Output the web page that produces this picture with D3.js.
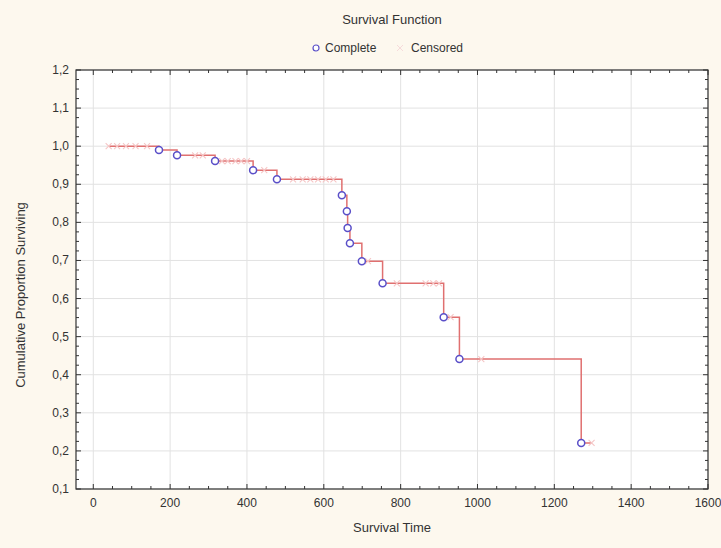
<!DOCTYPE html>
<html>
<head>
<meta charset="utf-8">
<script src="https://d3js.org/d3.v7.min.js"></script>
<style>
body { margin: 0; background: #fdf8ee; }
svg { display: block; }
text { font-family: "Liberation Sans Narrow", "Arial Narrow", "Liberation Sans", Arial, sans-serif; fill: #333; }
</style>
</head>
<body>
<script>
// Kaplan-Meier estimate
var completeTime = [171, 218, 317, 416, 478, 647, 660, 662, 668, 699, 753, 912, 953, 1270];
var completeSurv = [0.990, 0.976, 0.961, 0.937, 0.913, 0.871, 0.829, 0.785, 0.745, 0.698, 0.640, 0.551, 0.441, 0.221];
var censoredTime = [40, 62, 85, 110, 140, 265, 285, 335, 350, 370, 385, 400, 445, 520, 545, 565, 585, 605, 625,
                    715, 790, 865, 885, 900, 930, 1010, 1297];
var xTicks = [0, 200, 400, 600, 800, 1000, 1200, 1400, 1600];
var yTicks = [0.1, 0.2, 0.3, 0.4, 0.5, 0.6, 0.7, 0.8, 0.9, 1.0, 1.1, 1.2];

var width = 721, height = 548;
var pLeft = 76, pRight = 708, pTop = 70, pBottom = 489;

var svg = d3.select("body").append("svg")
    .attr("width", width)
    .attr("height", height);

svg.append("rect").attr("width", width).attr("height", height).attr("fill", "#fdf8ee");

var x = d3.scaleLinear().domain([-45, 1600]).range([pLeft, pRight]);
var y = d3.scaleLinear().domain([0.1, 1.2]).range([pBottom, pTop]);

svg.append("rect")
    .attr("x", pLeft).attr("y", pTop)
    .attr("width", pRight - pLeft).attr("height", pBottom - pTop)
    .attr("fill", "#fff");

// grid
svg.append("g").selectAll("line").data(xTicks).enter().append("line")
    .attr("x1", d => x(d)).attr("x2", d => x(d))
    .attr("y1", pTop).attr("y2", pBottom)
    .attr("stroke", "#e2e2e2");
svg.append("g").selectAll("line").data(yTicks).enter().append("line")
    .attr("y1", d => y(d)).attr("y2", d => y(d))
    .attr("x1", pLeft).attr("x2", pRight)
    .attr("stroke", "#e2e2e2");

// survival at a time (step)
function survAt(t) {
    var s = 1.0;
    for (var i = 0; i < completeTime.length; i++) {
        if (completeTime[i] <= t) s = completeSurv[i];
    }
    return s;
}

// step line
var pts = [[censoredTime[0], 1.0]];
completeTime.forEach(function(t, i) {
    pts.push([t, i == 0 ? 1.0 : completeSurv[i - 1]]);
    pts.push([t, completeSurv[i]]);
});
pts.push([censoredTime[censoredTime.length - 1], completeSurv[completeSurv.length - 1]]);

var line = d3.line().x(d => x(d[0])).y(d => y(d[1]));
svg.append("path")
    .attr("d", line(pts))
    .attr("fill", "none")
    .attr("stroke", "#e07070")
    .attr("stroke-width", 1.5);

// censored marks
svg.append("g").selectAll("path").data(censoredTime).enter().append("path")
    .attr("transform", d => "translate(" + x(d) + "," + y(survAt(d)) + ")")
    .attr("d", "M-3,-3L3,3M-3,3L3,-3")
    .attr("stroke", "#f5c6c6")
    .attr("stroke-width", 1.1)
    .attr("fill", "none");

// complete marks
svg.append("g").selectAll("circle").data(completeTime).enter().append("circle")
    .attr("cx", d => x(d))
    .attr("cy", (d, i) => y(completeSurv[i]))
    .attr("r", 3.5)
    .attr("fill", "#fff")
    .attr("stroke", "#5a4fc8")
    .attr("stroke-width", 1.5);

// frame with inward ticks on all sides
var frame = svg.append("g");
frame.append("rect")
    .attr("x", pLeft).attr("y", pTop)
    .attr("width", pRight - pLeft).attr("height", pBottom - pTop)
    .attr("fill", "none").attr("stroke", "#333").attr("stroke-width", 1.2);

var xMinor = d3.range(0, 1601, 50);
var yMinor = d3.range(0.1, 1.2001, 0.025);
xMinor.forEach(function(t) {
    var len = (t % 200 == 0) ? 5 : 3;
    frame.append("line").attr("x1", x(t)).attr("x2", x(t)).attr("y1", pBottom).attr("y2", pBottom - len).attr("stroke", "#333");
    frame.append("line").attr("x1", x(t)).attr("x2", x(t)).attr("y1", pTop).attr("y2", pTop + len).attr("stroke", "#333");
});
yMinor.forEach(function(v, i) {
    var len = (i % 4 == 0) ? 5 : 3;
    frame.append("line").attr("y1", y(v)).attr("y2", y(v)).attr("x1", pLeft).attr("x2", pLeft + len).attr("stroke", "#333");
    frame.append("line").attr("y1", y(v)).attr("y2", y(v)).attr("x1", pRight).attr("x2", pRight - len).attr("stroke", "#333");
});

// tick labels
svg.append("g").selectAll("text").data(xTicks).enter().append("text")
    .attr("x", d => x(d)).attr("y", pBottom + 18)
    .attr("text-anchor", "middle")
    .attr("font-size", 12)
    .text(d => d);
svg.append("g").selectAll("text").data(yTicks).enter().append("text")
    .attr("x", pLeft - 7).attr("y", d => y(d) + 4)
    .attr("text-anchor", "end")
    .attr("font-size", 12)
    .text(d => d3.format(".1f")(d).replace(".", ","));

// axis titles
svg.append("text")
    .attr("x", (pLeft + pRight) / 2).attr("y", pBottom + 43)
    .attr("text-anchor", "middle").attr("font-size", 13)
    .text("Survival Time");
svg.append("text")
    .attr("transform", "translate(25,295) rotate(-90)")
    .attr("text-anchor", "middle").attr("font-size", 13)
    .text("Cumulative Proportion Surviving");

// title and legend
var cx = (pLeft + pRight) / 2;
svg.append("text")
    .attr("x", cx).attr("y", 24)
    .attr("text-anchor", "middle").attr("font-size", 13)
    .text("Survival Function");
var lg = svg.append("g").attr("transform", "translate(0,52)");
lg.append("circle").attr("cx", 316).attr("cy", -4).attr("r", 3)
    .attr("fill", "#fff").attr("stroke", "#5a4fc8").attr("stroke-width", 1.2);
lg.append("text").attr("x", 325).attr("y", 0).attr("font-size", 12).text("Complete");
lg.append("path").attr("transform", "translate(400,-4)")
    .attr("d", "M-3,-3L3,3M-3,3L3,-3")
    .attr("stroke", "#f6dada").attr("stroke-width", 1);
lg.append("text").attr("x", 411).attr("y", 0).attr("font-size", 12).text("Censored");
</script>
</body>
</html>
